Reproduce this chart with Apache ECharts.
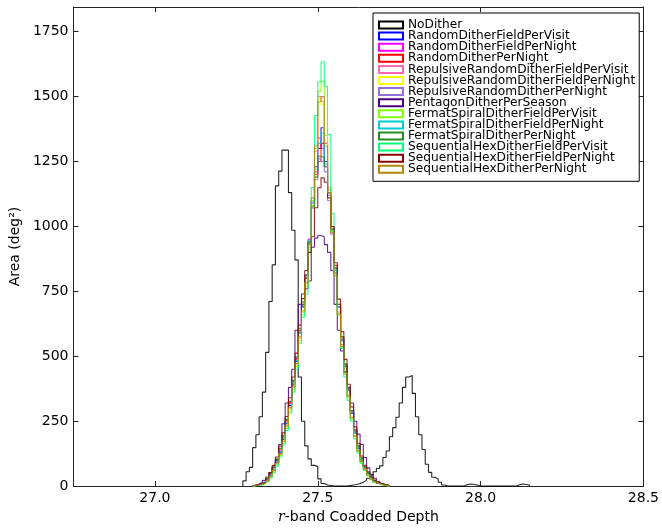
<!DOCTYPE html>
<html><head><meta charset="utf-8">
<script src="https://cdn.jsdelivr.net/npm/echarts@6/dist/echarts.min.js"></script>
<style>html,body{margin:0;padding:0;background:#fff}#c{width:662px;height:529px}</style>
</head><body><div id="c"></div>
<script>
// ---- data ----
const seriesNames = [
  'NoDither','RandomDitherFieldPerVisit','RandomDitherFieldPerNight','RandomDitherPerNight',
  'RepulsiveRandomDitherFieldPerVisit','RepulsiveRandomDitherFieldPerNight','RepulsiveRandomDitherPerNight',
  'PentagonDitherPerSeason','FermatSpiralDitherFieldPerVisit','FermatSpiralDitherFieldPerNight',
  'FermatSpiralDitherPerNight','SequentialHexDitherFieldPerVisit','SequentialHexDitherFieldPerNight',
  'SequentialHexDitherPerNight'
];
const seriesColors = ['#000000','#0000ff','#ff00ff','#ff0000','#ff69b4','#ffff00','#9370db',
  '#4b0082','#7fff00','#00ced1','#228b22','#00ff7f','#8b0000','#b8860b'];
const binWidth = 0.01;
const noDitherStart = 27.27;   // left edge of first bin
const ditherStart = 27.30;     // left edge of first bin for dithered runs

const noDither = [20,55,72,148,198,267,362,515,711,852,
  1156,1213,1294,1294,1130,985,871,420,250,155,
  105,80,75,28,10,4,2,0,0,0,
  0,0,2,4,6,10,15,22,30,42,
  55,68,78,110,135,190,225,265,320,380,
  420,426,357,267,198,141,84,53,34,27,
  15,4,0,0,0,0,0,0,6,8,
  6,4,0,0,0,0,0,0,0,0,
  0,0,0,0,5,8,6,4];
const randomDitherFieldPerVisit = [2,4,7,12,22,40,62,92,130,180,240,310,390,480,590,690,800,940,1100,1230,1300,1380,1250,1130,990,840,690,560,460,370,280,205,145,100,70,48,30,18,10,6,3,1];
const randomDitherFieldPerNight = [2,5,8,13,24,42,66,96,136,186,246,318,398,488,598,700,810,950,1090,1210,1340,1300,1230,1120,980,830,690,565,465,370,285,210,150,104,72,49,31,19,11,6,3,1];
const randomDitherPerNight = [3,5,9,15,26,46,72,102,142,192,252,322,402,492,600,700,800,935,1080,1200,1250,1320,1320,1140,1000,850,700,575,470,375,290,215,155,108,74,50,33,20,12,7,4,2];
const repulsiveFieldPerVisit = [2,4,6,11,20,36,58,85,122,170,228,298,378,468,570,670,780,920,1090,1290,1500,1480,1320,1150,990,820,670,545,440,350,265,195,138,96,66,44,28,17,10,5,3,1];
const repulsiveFieldPerNight = [2,4,7,11,21,37,59,87,124,172,230,300,380,470,572,672,782,925,1100,1300,1490,1470,1330,1140,980,815,665,540,438,348,262,193,136,95,65,43,27,16,9,5,3,1];
const repulsivePerNight = [3,6,9,16,28,48,74,105,146,196,258,328,408,498,608,710,815,940,1070,1180,1260,1250,1210,1100,970,820,690,570,465,372,290,218,157,110,76,52,34,21,13,8,4,2];
const pentagonPerSeason = [4,8,14,22,35,52,72,100,160,240,320,380,450,600,700,740,760,790,920,955,965,960,930,900,830,700,600,520,440,380,320,250,200,160,110,70,45,30,18,10,5,2];
const fermatFieldPerVisit = [2,3,6,10,19,34,55,82,118,165,222,290,370,460,560,660,770,910,1080,1300,1520,1560,1350,1150,980,810,660,535,430,340,258,190,133,92,63,42,27,16,9,5,2,1];
const fermatFieldPerNight = [2,4,7,13,23,41,64,94,133,183,243,314,394,484,594,696,805,945,1095,1220,1320,1360,1240,1130,985,835,690,562,462,368,282,208,148,102,70,48,31,19,11,6,3,1];
const fermatPerNight = [3,5,9,15,27,47,73,104,145,195,256,326,406,496,606,708,812,940,1075,1190,1270,1265,1230,1130,990,840,700,575,470,375,290,216,155,108,74,51,34,21,13,7,4,2];
const seqHexFieldPerVisit = [2,3,5,9,17,31,51,77,112,158,214,282,362,450,550,650,740,900,1150,1427,1556,1634,1540,1354,1050,830,660,530,420,330,250,182,128,88,60,40,25,15,8,4,2,1];
const seqHexFieldPerNight = [3,6,10,17,30,52,80,112,154,205,268,340,420,512,620,722,830,900,960,1072,1149,1187,1170,1110,1000,860,720,595,488,392,305,228,165,116,80,55,36,23,14,8,5,2];
const seqHexPerNight = [2,4,7,12,21,37,60,88,125,173,232,302,382,472,575,675,785,930,1110,1310,1480,1500,1310,1130,975,810,662,538,436,346,262,192,136,95,65,43,27,16,9,5,3,1];

const xTicks = [27.0, 27.5, 28.0, 28.5];
const yTicks = [0, 250, 500, 750, 1000, 1250, 1500, 1750];

// ---- build ----
const allCounts = [noDither, randomDitherFieldPerVisit, randomDitherFieldPerNight, randomDitherPerNight,
  repulsiveFieldPerVisit, repulsiveFieldPerNight, repulsivePerNight, pentagonPerSeason,
  fermatFieldPerVisit, fermatFieldPerNight, fermatPerNight, seqHexFieldPerVisit,
  seqHexFieldPerNight, seqHexPerNight];
const starts = allCounts.map((_, i) => i === 0 ? noDitherStart : ditherStart);

function stepOutline(start, counts) {
  const pts = [[start, 0]];
  counts.forEach((c, i) => {
    const x0 = +(start + i * binWidth).toFixed(4);
    const x1 = +(start + (i + 1) * binWidth).toFixed(4);
    pts.push([x0, c], [x1, c]);
  });
  pts.push([+(start + counts.length * binWidth).toFixed(4), 0]);
  return pts;
}

const font = 'DejaVu Sans';
const series = seriesNames.map((n, i) => ({
  name: n, type: 'line', xAxisIndex: 0, yAxisIndex: 0,
  data: stepOutline(starts[i], allCounts[i]),
  symbol: 'none', smooth: false,
  lineStyle: { color: seriesColors[i], width: 1.1, opacity: 0.85 },
  itemStyle: { color: seriesColors[i] },
  emphasis: { disabled: true }, animation: false, z: 2 + i
}));

const axisLineStyle = { color: '#222', width: 1 };
const chart = echarts.init(document.getElementById('c'), null, { renderer: 'canvas' });
chart.setOption({
  backgroundColor: '#fff',
  animation: false,
  grid: { left: 70, right: 16, top: 7, bottom: 37, containLabel: false },
  xAxis: [{
    type: 'value', min: 26.75, max: 28.5, position: 'bottom',
    axisLine: { show: true, onZero: false, lineStyle: axisLineStyle },
    axisTick: { show: true, inside: true, length: 5, customValues: xTicks, lineStyle: axisLineStyle },
    axisLabel: { customValues: xTicks, formatter: v => Number(v).toFixed(1), fontSize: 14, color: '#000', fontFamily: font, margin: 5 },
    splitLine: { show: false },
    name: '{i|r}-band Coadded Depth', nameLocation: 'middle', nameGap: 23,
    nameTextStyle: { fontSize: 14, color: '#000', fontFamily: font,
      rich: { i: { fontStyle: 'italic', fontSize: 14, color: '#000', fontFamily: 'DejaVu Serif' } } }
  }, {
    type: 'value', min: 26.75, max: 28.5, position: 'top',
    axisLine: { show: true, onZero: false, lineStyle: axisLineStyle },
    axisTick: { show: true, inside: true, length: 5, customValues: xTicks, lineStyle: axisLineStyle },
    axisLabel: { show: false }, splitLine: { show: false }
  }],
  yAxis: [{
    type: 'value', min: 0, max: 1845, position: 'left',
    axisLine: { show: true, onZero: false, lineStyle: axisLineStyle },
    axisTick: { show: true, inside: true, length: 5, customValues: yTicks, lineStyle: axisLineStyle },
    axisLabel: { customValues: yTicks, formatter: v => String(Math.round(v)), fontSize: 14, color: '#000', fontFamily: font, margin: 5 },
    splitLine: { show: false },
    name: 'Area (deg²)', nameLocation: 'middle', nameRotate: 90, nameGap: 46,
    nameTextStyle: { fontSize: 14, color: '#000', fontFamily: font }
  }, {
    type: 'value', min: 0, max: 1845, position: 'right',
    axisLine: { show: true, onZero: false, lineStyle: axisLineStyle },
    axisTick: { show: true, inside: true, length: 5, customValues: yTicks, lineStyle: axisLineStyle },
    axisLabel: { show: false }, splitLine: { show: false }
  }],
  legend: {
    orient: 'vertical', left: 373, top: 13,
    icon: 'rect', itemWidth: 24, itemHeight: 7, itemGap: -0.9, itemTextGap: 10,
    padding: [6, 4, 6, 5],
    backgroundColor: '#fff', borderColor: '#000', borderWidth: 1, borderRadius: 0,
    selectedMode: false,
    textStyle: { fontSize: 12.2, lineHeight: 11, fontFamily: font, color: '#000' },
    data: seriesNames.map((n, i) => ({ name: n, icon: 'rect',
      itemStyle: { color: '#fff', borderColor: seriesColors[i], borderWidth: 2 } }))
  },
  series: series
});
</script></body></html>
